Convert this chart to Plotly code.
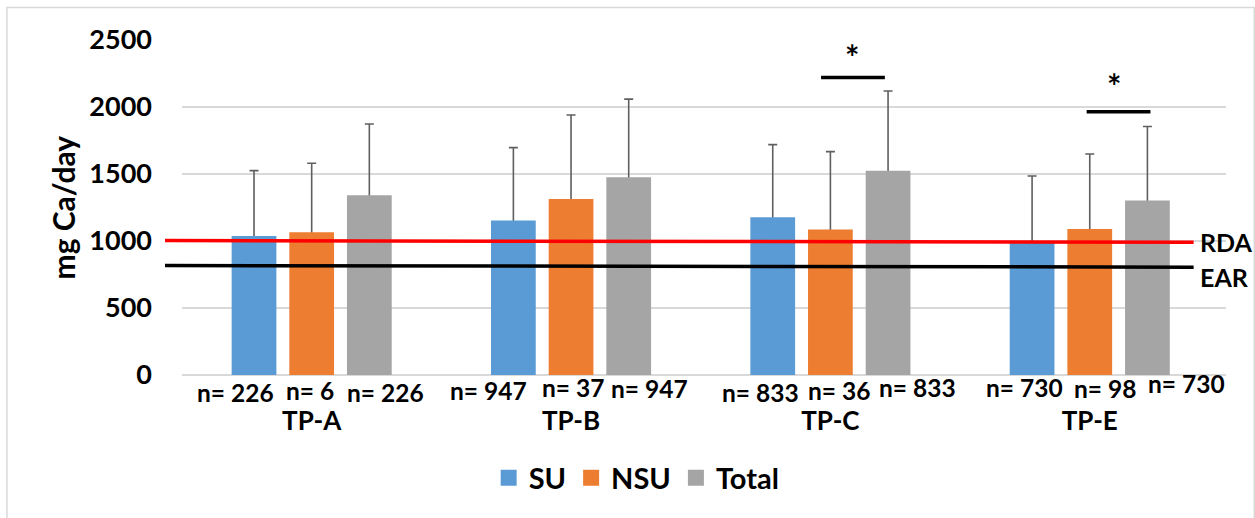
import plotly.graph_objects as go

# ---- data -------------------------------------------------------------
groups = ["TP-A", "TP-B", "TP-C", "TP-E"]
series = ["SU", "NSU", "Total"]

su_mean = [1038, 1153, 1177, 990]
su_sd = [487, 544, 542, 495]
nsu_mean = [1066, 1314, 1086, 1090]
nsu_sd = [514, 626, 581, 559]
total_mean = [1341, 1475, 1525, 1302]
total_sd = [532, 584, 594, 553]

su_n = ["n= 226", "n= 947", "n= 833", "n= 730"]
nsu_n = ["n= 6", "n= 37", "n= 36", "n= 98"]
total_n = ["n= 226", "n= 947", "n= 833", "n= 730"]

# reference intakes (start / end of the drawn line)
rda_line = [1003, 990]
ear_line = [817, 805]

# significance brackets: (group index start, end, level)
sig_c = [1.964, 2.21, 2220]
sig_e = [2.988, 3.234, 1965]
star_c = [2.083, 2420]
star_e = [3.092, 2205]

y_max = 2500

# ---- styling ----------------------------------------------------------
colors = {"SU": "#5b9bd5", "NSU": "#ed7d31", "Total": "#a5a5a5"}
err_color = "#5f5f5f"
FONT = "Lato"
# whiskers start slightly inside the bar so their lower cap is hidden by it
whisker_tuck = 15

means = {"SU": su_mean, "NSU": nsu_mean, "Total": total_mean}
sds = {"SU": su_sd, "NSU": nsu_sd, "Total": total_sd}
ns = {"SU": su_n, "NSU": nsu_n, "Total": total_n}

# horizontal placement of the "n=" labels, in category units from the group centre
n_offsets = {
    "SU": [-0.295, -0.318, -0.269, -0.252],
    "NSU": [-0.007, 0.008, 0.035, 0.058],
    "Total": [0.285, 0.302, 0.337, 0.373],
}
n_yshift = {
    "SU": [-17, -15, -17, -12],
    "NSU": [-15, -12, -15, -13],
    "Total": [-17, -13, -12, -8],
}

fig = go.Figure()

# error whiskers (upper SD only), drawn first so the bars sit on top of them
for s in series:
    fig.add_trace(go.Bar(
        name=s + " SD", x=groups, y=means[s], offsetgroup=s,
        marker=dict(color="rgba(0,0,0,0)", line=dict(width=0)),
        error_y=dict(type="data", symmetric=False, array=sds[s],
                     arrayminus=[whisker_tuck] * len(groups), color=err_color,
                     thickness=1.6, width=4.5),
        showlegend=False, hoverinfo="skip",
    ))

for s in series:
    fig.add_trace(go.Bar(
        name=s, x=groups, y=means[s], offsetgroup=s,
        marker=dict(color=colors[s], line=dict(width=0)),
        showlegend=False,
    ))

# legend entries with larger square swatches
for s in series:
    fig.add_trace(go.Scatter(
        name=s, x=[None], y=[None], mode="markers",
        marker=dict(symbol="square", size=16, color=colors[s]),
        showlegend=True,
    ))

shapes = []
annotations = []

# RDA / EAR lines
for vals, col in ((rda_line, "#ff0000"), (ear_line, "#000000")):
    shapes.append(dict(type="line", xref="paper", yref="paper",
                       x0=-0.0163, x1=0.969,
                       y0=vals[0] / y_max, y1=vals[1] / y_max,
                       line=dict(color=col, width=3.5)))
annotations.append(dict(text="RDA", xref="paper", yref="paper",
                        x=0.973, y=rda_line[1] / y_max, xanchor="left",
                        yanchor="middle", showarrow=False,
                        font=dict(size=25, color="#000000")))
annotations.append(dict(text="EAR", xref="paper", yref="paper",
                        x=0.973, y=ear_line[1] / y_max, xanchor="left",
                        yanchor="middle", showarrow=False, yshift=-10,
                        font=dict(size=25, color="#000000")))

# significance brackets and stars
for bar, star in ((sig_c, star_c), (sig_e, star_e)):
    shapes.append(dict(type="line", xref="x", yref="y",
                       x0=bar[0], x1=bar[1], y0=bar[2], y1=bar[2],
                       line=dict(color="#000000", width=3.5)))
    annotations.append(dict(text="*", xref="x", yref="y", x=star[0],
                            y=star[1], showarrow=False, yanchor="middle",
                            yshift=-6,
                            font=dict(size=34, color="#000000")))

# sample-size labels under each bar
for s in series:
    for i, g in enumerate(groups):
        annotations.append(dict(text=ns[s][i], xref="x", yref="paper",
                                x=i + n_offsets[s][i], y=0,
                                yanchor="middle", yshift=n_yshift[s][i],
                                showarrow=False, borderpad=0,
                                font=dict(size=24.5, color="#000000")))

# y-axis title
annotations.append(dict(text="mg Ca/day", xref="paper", yref="paper",
                        x=-0.114, y=0.5, xanchor="center", yanchor="middle",
                        textangle=-90, showarrow=False,
                        font=dict(size=30, color="#000000")))

# outer chart frame
shapes.append(dict(type="rect", xref="paper", yref="paper",
                   x0=-0.1677, x1=1.0271, y0=-0.6, y1=1.097,
                   line=dict(color="#d9d9d9", width=1.5), layer="below"))

fig.update_layout(
    width=1255, height=518,
    margin=dict(l=182, r=29, t=40, b=143),
    paper_bgcolor="#ffffff", plot_bgcolor="#ffffff",
    font=dict(family=FONT, color="#000000", weight="bold"),
    barmode="group", bargap=0.333, bargroupgap=0.224,
    shapes=shapes, annotations=annotations,
    legend=dict(orientation="h", x=0.4355, xanchor="center",
                y=-0.307, yanchor="middle",
                font=dict(size=29, color="#000000"),
                itemwidth=30, traceorder="normal"),
    xaxis=dict(type="category", showgrid=False, showline=False,
               zeroline=False, ticks="", ticklabelstandoff=28,
               tickfont=dict(size=26, color="#000000")),
    yaxis=dict(range=[0, y_max], dtick=500, showgrid=True,
               gridcolor="#d9d9d9", gridwidth=1.5,
               zeroline=True, zerolinecolor="#d9d9d9", zerolinewidth=1.5,
               showline=False, ticks="", ticklabelstandoff=29,
               tickfont=dict(size=27, color="#000000")),
)

fig.write_html("out.html")
